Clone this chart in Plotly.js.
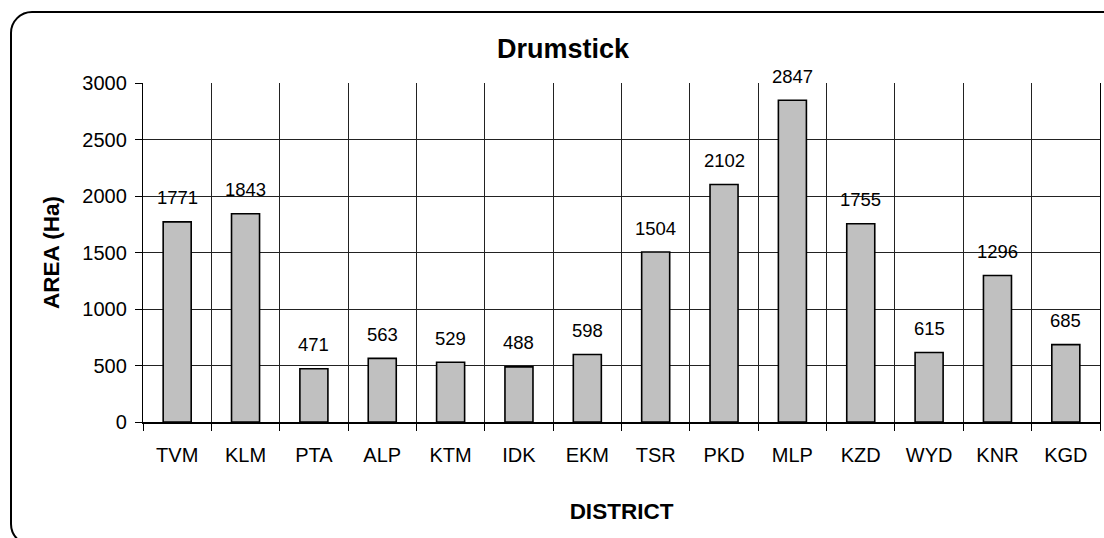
<!DOCTYPE html>
<html>
<head>
<meta charset="utf-8">
<script src="https://cdn.plot.ly/plotly-3.0.1.min.js"></script>
<style>
  html, body { margin: 0; padding: 0; width: 1104px; height: 538px; overflow: hidden; background: #fff; }
  #wrap { position: relative; width: 1104px; height: 538px; overflow: hidden; }
  #frame { position: absolute; left: 10px; top: 11px; width: 1110px; height: 531px; border: 2px solid #000; border-radius: 22px; pointer-events: none; z-index: 2; }
  #chart { position: absolute; left: 0; top: 0; width: 1104px; height: 538px; }
</style>
</head>
<body>
<div id="wrap">
  <div id="chart"></div>
  <div id="frame"></div>
</div>
<script>
const districts = ["TVM","KLM","PTA","ALP","KTM","IDK","EKM","TSR","PKD","MLP","KZD","WYD","KNR","KGD"];
const areaHa = [1771,1843,471,563,529,488,598,1504,2102,2847,1755,615,1296,685];
const yTicks = [0,500,1000,1500,2000,2500,3000];

const FONT = "Liberation Sans, Arial, sans-serif";

const trace = {
  type: "bar",
  x: districts,
  y: areaHa,
  marker: { color: "#c0c0c0", line: { color: "#000", width: 1.6 } },
  hoverinfo: "x+y"
};

const annotations = districts.map((d, i) => ({
  x: d, y: areaHa[i], xref: "x", yref: "y",
  text: String(areaHa[i]), showarrow: false,
  yanchor: "middle", yshift: 24,
  font: { family: FONT, size: 18.5, color: "#000" }
}));

const layout = {
  width: 1104, height: 538,
  margin: { l: 143, r: 4, t: 83, b: 116 },
  paper_bgcolor: "#fff", plot_bgcolor: "#fff",
  font: { family: FONT, color: "#000" },
  showlegend: false,
  bargap: 0.59,
  title: {
    text: "<b>Drumstick</b>",
    font: { family: FONT, size: 27, color: "#000" },
    xref: "container", yref: "container",
    x: 0.51, xanchor: "center", y: 1 - 49/538, yanchor: "middle"
  },
  xaxis: {
    type: "category",
    categoryorder: "array", categoryarray: districts,
    range: [-0.5, districts.length - 0.5],
    tickson: "boundaries",
    ticks: "outside", ticklen: 7, tickcolor: "#000", tickwidth: 1,
    showgrid: true, gridcolor: "#222", gridwidth: 1,
    showline: true, linecolor: "#000", linewidth: 1.5,
    tickfont: { family: FONT, size: 20, color: "#000" },
    ticklabelstandoff: 14,
    title: { text: "<b>DISTRICT</b>", font: { family: FONT, size: 22.5, color: "#000" }, standoff: 38 },
    fixedrange: true
  },
  yaxis: {
    range: [0, 3000],
    tickvals: yTicks,
    ticktext: yTicks.map(String),
    ticks: "outside", ticklen: 7, tickcolor: "#000", tickwidth: 1,
    showgrid: true, gridcolor: "#222", gridwidth: 1,
    zeroline: false,
    showline: true, mirror: true, linecolor: "#000", linewidth: 1.2,
    tickfont: { family: FONT, size: 20, color: "#000" },
    ticklabelstandoff: 4,
    title: { text: "<b>AREA (Ha)</b>", font: { family: FONT, size: 22.5, color: "#000" }, standoff: 16 },
    fixedrange: true
  },
  annotations: annotations
};

Plotly.newPlot("chart", [trace], layout, { displayModeBar: false, staticPlot: true });
</script>
</body>
</html>
